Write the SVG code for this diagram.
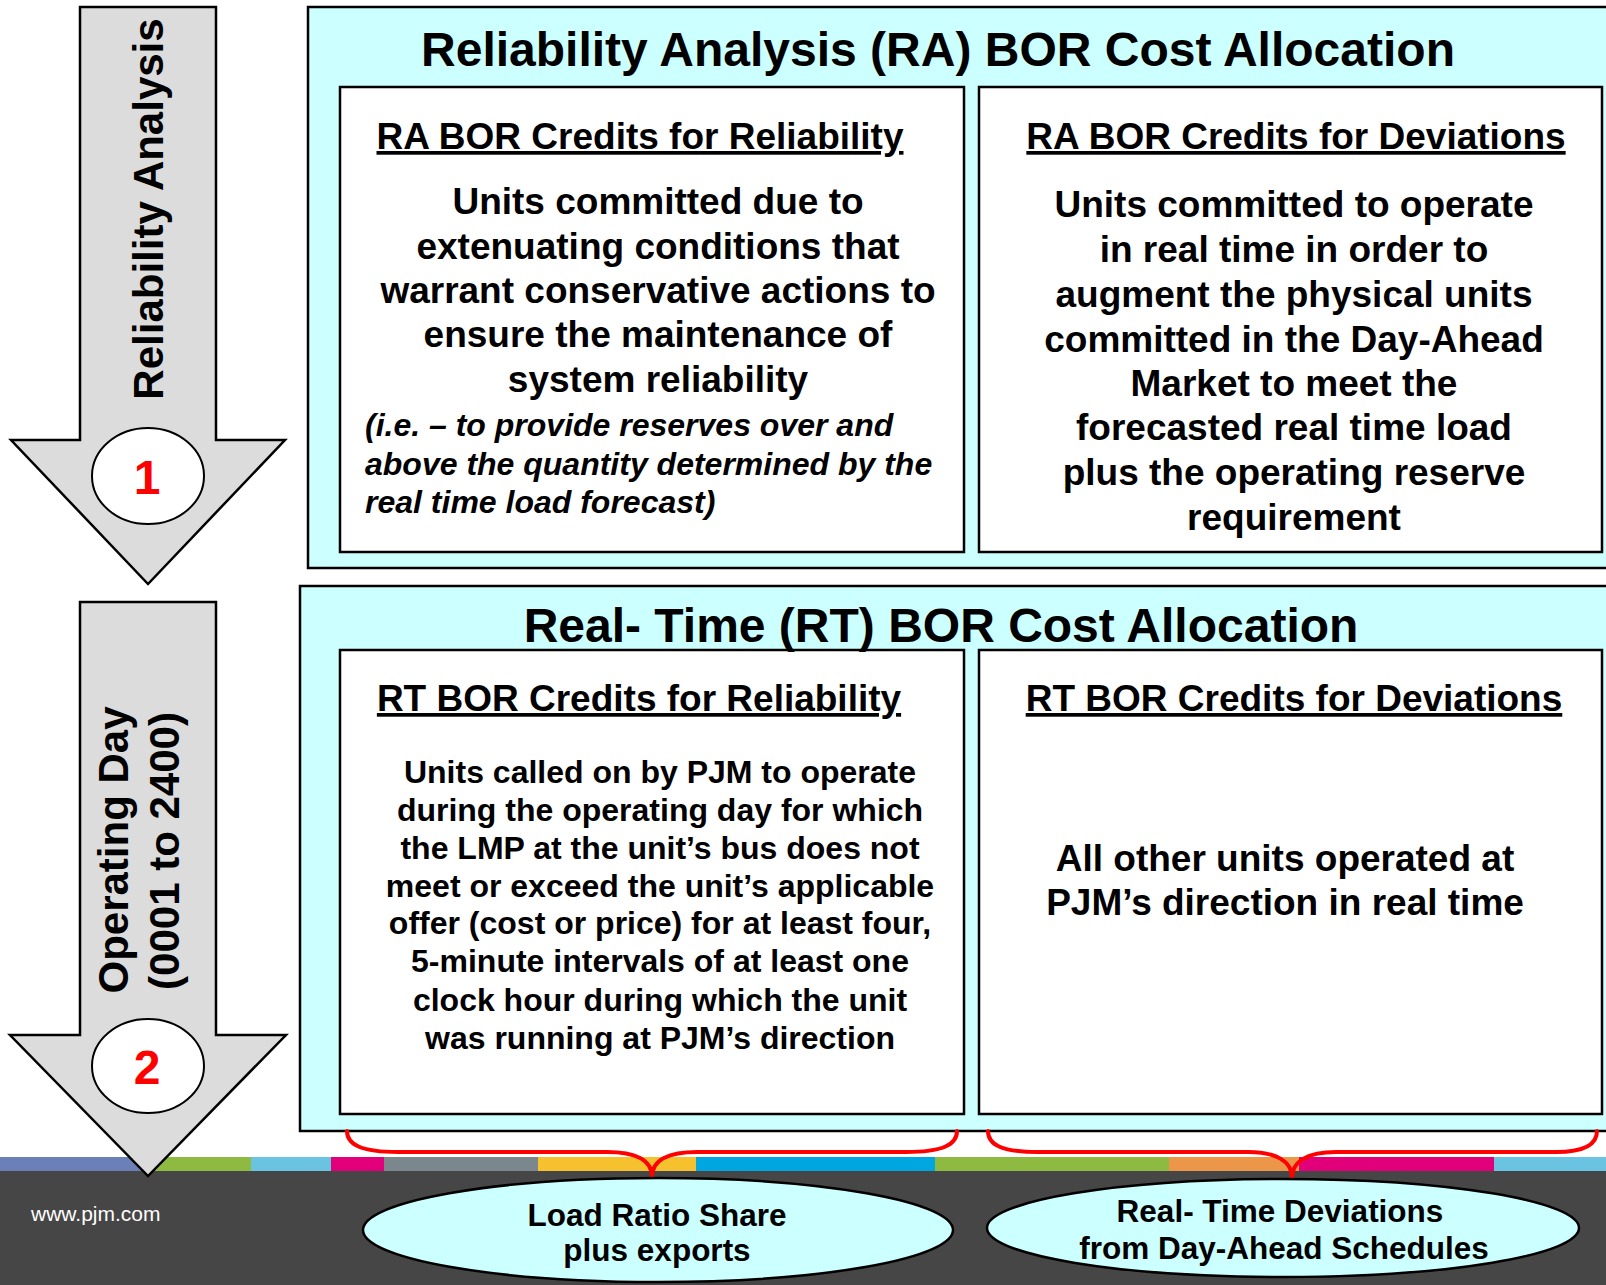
<svg xmlns="http://www.w3.org/2000/svg" width="1606" height="1285" viewBox="0 0 1606 1285">
<style>
text{font-family:"Liberation Sans",Arial,sans-serif;font-weight:bold;fill:#000}
.panel{fill:#ccffff;stroke:#000;stroke-width:2.5}
.box{fill:#fff;stroke:#000;stroke-width:2.5}
.arrow{fill:#dcdcdc;stroke:#000;stroke-width:2.5;stroke-linejoin:miter}
.num{fill:#fff;stroke:#000;stroke-width:2}
.oval{fill:#ccffff;stroke:#000;stroke-width:2.5}
.brace{fill:none;stroke:#ff0000;stroke-width:4;stroke-linecap:round}
.title{font-size:48px;text-anchor:middle}
.sub{font-size:37px;text-anchor:middle;text-decoration:underline}
.b37{font-size:37px;text-anchor:middle}
.b32{font-size:32px;text-anchor:middle}
.it{font-size:32px;font-style:italic}
.side{font-size:42px;text-anchor:middle}
.digit{font-size:48px;text-anchor:middle;fill:#ff0000}
.ov{font-size:31.5px;text-anchor:middle}
</style>
<rect x="0" y="0" width="1606" height="1285" fill="#fff"/>
<g id="footer">
<rect x="0" y="1170" width="1606" height="115" fill="#464646"/>
<rect x="0" y="1157" width="148" height="14" fill="#6b80b6"/>
<rect x="148" y="1157" width="103" height="14" fill="#8fba42"/>
<rect x="251" y="1157" width="80" height="14" fill="#6bc3e2"/>
<rect x="331" y="1157" width="53" height="14" fill="#e2007a"/>
<rect x="384" y="1157" width="154" height="14" fill="#7c868d"/>
<rect x="538" y="1157" width="158" height="14" fill="#f5c12e"/>
<rect x="696" y="1157" width="239" height="14" fill="#00a6e0"/>
<rect x="935" y="1157" width="234" height="14" fill="#8fba42"/>
<rect x="1169" y="1157" width="130" height="14" fill="#eb9648"/>
<rect x="1299" y="1157" width="195" height="14" fill="#e2007a"/>
<rect x="1494" y="1157" width="112" height="14" fill="#6bc3e2"/>
<text x="31" y="1221" style="font-size:21px;font-weight:normal;fill:#fff">www.pjm.com</text>
</g>
<g id="ra-panel">
<rect class="panel" x="308" y="7" width="1320" height="561"/>
<text class="title" x="938" y="66">Reliability Analysis (RA) BOR Cost Allocation</text>
</g>
<g id="ra-reliability">
<rect class="box" x="340" y="87" width="624" height="465"/>
<text class="sub" x="640" y="149">RA BOR Credits for Reliability</text>
<text class="b37" x="658" y="214">Units committed due to</text>
<text class="b37" x="658" y="259">extenuating conditions that</text>
<text class="b37" x="658" y="303">warrant conservative actions to</text>
<text class="b37" x="658" y="347">ensure the maintenance of</text>
<text class="b37" x="658" y="392">system reliability</text>
<text class="it" x="365" y="436">(i.e. – to provide reserves over and</text>
<text class="it" x="365" y="475">above the quantity determined by the</text>
<text class="it" x="365" y="513">real time load forecast)</text>
</g>
<g id="ra-deviations">
<rect class="box" x="979" y="87" width="623" height="465"/>
<text class="sub" x="1296" y="149">RA BOR Credits for Deviations</text>
<text class="b37" x="1294" y="217">Units committed to operate</text>
<text class="b37" x="1294" y="262">in real time in order to</text>
<text class="b37" x="1294" y="307">augment the physical units</text>
<text class="b37" x="1294" y="352">committed in the Day-Ahead</text>
<text class="b37" x="1294" y="396">Market to meet the</text>
<text class="b37" x="1294" y="440">forecasted real time load</text>
<text class="b37" x="1294" y="485">plus the operating reserve</text>
<text class="b37" x="1294" y="530">requirement</text>
</g>
<g id="rt-panel">
<rect class="panel" x="300" y="586" width="1330" height="545"/>
</g>
<g id="rt-reliability">
<rect class="box" x="340" y="650" width="624" height="464"/>
<text class="sub" x="639" y="711">RT BOR Credits for Reliability</text>
<text class="b32" x="660" y="783">Units called on by PJM to operate</text>
<text class="b32" x="660" y="821">during the operating day for which</text>
<text class="b32" x="660" y="859">the LMP at the unit’s bus does not</text>
<text class="b32" x="660" y="897">meet or exceed the unit’s applicable</text>
<text class="b32" x="660" y="934">offer (cost or price) for at least four,</text>
<text class="b32" x="660" y="972">5-minute intervals of at least one</text>
<text class="b32" x="660" y="1011">clock hour during which the unit</text>
<text class="b32" x="660" y="1049">was running at PJM’s direction</text>
</g>
<g id="rt-deviations">
<rect class="box" x="979" y="650" width="623" height="464"/>
<text class="sub" x="1294" y="711">RT BOR Credits for Deviations</text>
<text class="b37" x="1285" y="871">All other units operated at</text>
<text class="b37" x="1285" y="915">PJM’s direction in real time</text>
</g>
<g id="rt-title">
<text class="title" x="941" y="642">Real- Time (RT) BOR Cost Allocation</text>
</g>
<g id="arrow-ra">
<polygon class="arrow" points="80,7 216,7 216,440 285,440 148,584 11,440 80,440"/>
<text class="side" transform="translate(163,209) rotate(-90)">Reliability Analysis</text>
<ellipse class="num" cx="148" cy="476" rx="56" ry="48"/>
<text class="digit" x="147" y="494">1</text>
</g>
<g id="arrow-rt">
<polygon class="arrow" points="80,602 216,602 216,1035 286,1035 148,1176 10,1035 80,1035"/>
<text class="side" transform="translate(128,850) rotate(-90)">Operating Day</text>
<text class="side" transform="translate(179,851) rotate(-90)">(0001 to 2400)</text>
<ellipse class="num" cx="148" cy="1066" rx="56" ry="47"/>
<text class="digit" x="147" y="1084">2</text>
</g>
<g id="connectors">
<path class="brace" d="M347,1131 C347,1145 362,1152 398,1152 L607,1152 C635,1152 652,1160 652,1177 C652,1160 669,1152 697,1152 L906,1152 C942,1152 957,1145 957,1131"/>
<path class="brace" d="M988,1131 C988,1145 1002,1152 1038,1152 L1248,1152 C1276,1152 1292,1161 1292,1178 C1292,1161 1308,1152 1336,1152 L1556,1152 C1584,1152 1597,1145 1597,1131"/>
</g>
<g id="oval-lrs">
<ellipse class="oval" cx="658" cy="1230" rx="295" ry="52"/>
<text class="ov" x="657" y="1226">Load Ratio Share</text>
<text class="ov" x="657" y="1261">plus exports</text>
</g>
<g id="oval-dev">
<ellipse class="oval" cx="1283" cy="1228" rx="296" ry="49"/>
<text class="ov" x="1280" y="1222">Real- Time Deviations</text>
<text class="ov" x="1284" y="1259">from Day-Ahead Schedules</text>
</g>
</svg>
